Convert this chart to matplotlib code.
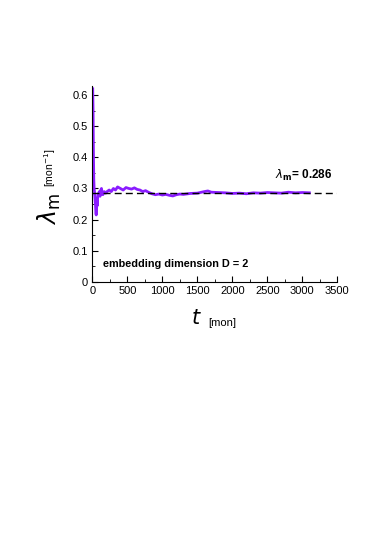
import matplotlib.pyplot as plt
from matplotlib.ticker import MultipleLocator

plt.rcParams['font.family'] = ['Liberation Sans', 'DejaVu Sans']

# lambda_m estimate vs time
t = [5, 10, 15, 20, 25, 30, 35, 40, 45, 50, 55, 60, 65, 70, 75, 80, 90, 100, 110,
     120, 130, 140, 150, 170, 190, 210, 240, 270, 300, 330, 360, 400, 440, 480,
     520, 560, 600, 640, 680, 720, 760, 800, 850, 900, 950, 1000, 1050, 1100,
     1150, 1200, 1250, 1300, 1400, 1500, 1600, 1650, 1700, 1800, 1900, 2000,
     2100, 2200, 2300, 2400, 2500, 2600, 2700, 2800, 2850, 2900, 3000, 3100]
lam = [0.62, 0.55, 0.42, 0.33, 0.30, 0.29, 0.275, 0.26, 0.245, 0.22, 0.215, 0.235,
       0.26, 0.245, 0.27, 0.28, 0.285, 0.29, 0.275, 0.295, 0.30, 0.285, 0.28,
       0.29, 0.285, 0.29, 0.295, 0.29, 0.30, 0.295, 0.305, 0.30, 0.295, 0.303,
       0.30, 0.298, 0.302, 0.297, 0.295, 0.29, 0.293, 0.288, 0.283, 0.28, 0.282,
       0.279, 0.281, 0.278, 0.276, 0.28, 0.282, 0.281, 0.284, 0.285, 0.29,
       0.292, 0.288, 0.287, 0.286, 0.284, 0.285, 0.283, 0.286, 0.285, 0.287,
       0.286, 0.285, 0.288, 0.287, 0.286, 0.287, 0.286]
lam_mean = 0.286

fig = plt.figure(figsize=(3.74, 5.39), dpi=100)
ax = fig.add_axes([0.247, 0.477, 0.655, 0.364])

ax.plot(t, lam, color='#8a1cff', lw=2.0)
ax.axhline(lam_mean, color='black', lw=1.0, ls=(0, (5, 3)))

ax.set_xlim(0, 3500)
ax.set_ylim(0, 0.63)
ax.xaxis.set_major_locator(MultipleLocator(500))
ax.xaxis.set_minor_locator(MultipleLocator(250))
ax.yaxis.set_minor_locator(MultipleLocator(0.05))
ax.set_yticks([0, 0.1, 0.2, 0.3, 0.4, 0.5, 0.6])
ax.set_yticklabels(['0', '0.1', '0.2', '0.3', '0.4', '0.5', '0.6'])
ax.tick_params(which='both', direction='in', labelsize=8, pad=3)
ax.tick_params(which='major', length=4)
ax.tick_params(which='minor', length=2)
ax.spines['top'].set_visible(False)
ax.spines['right'].set_visible(False)

ax.text(3025, 0.318, r'$\lambda_{\mathbf{m}}$= 0.286', fontsize=8.5,
        fontweight='bold', ha='center', va='bottom')
ax.text(150, 0.058, 'embedding dimension D = 2', fontsize=7.8,
        fontweight='bold', ha='left', va='center')

fig.text(0.131, 0.612, r'$\lambda_{\rm m}$', fontsize=17, rotation=90,
         ha='center', va='center')
fig.text(0.135, 0.688, r'[mon$^{-1}$]', fontsize=7.5, rotation=90,
         ha='center', va='center')
fig.text(0.524, 0.41, r'$t$', fontsize=15, ha='center', va='center')
fig.text(0.593, 0.40, '[mon]', fontsize=8, ha='center', va='center')

fig.savefig('out.png', dpi=100)
